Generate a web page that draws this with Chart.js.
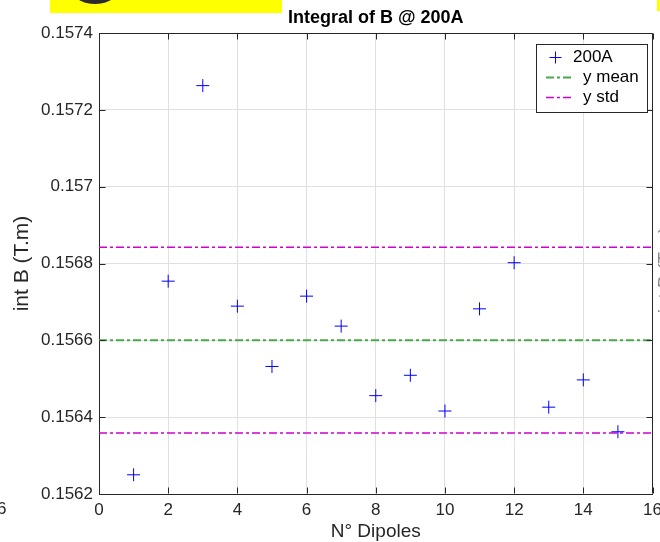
<!DOCTYPE html>
<html>
<head>
<meta charset="utf-8">
<title>Integral of B @ 200A</title>
<script src="https://cdn.jsdelivr.net/npm/chart.js@4.4.0/dist/chart.umd.min.js"></script>
<style>
  html, body { margin: 0; padding: 0; background: #fff; }
  #wrap { width: 660px; height: 542px; }
</style>
</head>
<body>
<div id="wrap"><canvas id="intB" width="660" height="542"></canvas></div>
<script>
// measured integral of B per dipole at 200A
const dipoles = [1, 2, 3, 4, 5, 6, 7, 8, 9, 10, 11, 12, 13, 14, 15];
const intB200A = [0.15625, 0.156754, 0.157263, 0.156689, 0.156532, 0.156715, 0.156637, 0.156456,
                  0.156509, 0.156416, 0.156682, 0.156802, 0.156426, 0.156497, 0.156362];

// statistics lines as shown on the plot
const yMean = 0.1566;
const yStdUpper = 0.156842;
const yStdLower = 0.156359;

const xRange = [0, 16];
const xTickValues = [0, 2, 4, 6, 8, 10, 12, 14, 16];
const yTickValues = [0.1562, 0.1564, 0.1566, 0.1568, 0.157, 0.1572, 0.1574];

const FONT = '"Liberation Sans", Arial, Helvetica, sans-serif';
const INK = '#262626';

// box on the top/right and ticks pointing inward, like the original figure
const frame = {
    id: 'frame',
    afterDatasetsDraw(chart) {
        const { ctx, chartArea: a, scales: { x, y } } = chart;
        const L = Math.round(a.left) + 0.5, R = Math.round(a.right) - 0.5;
        const T = Math.round(a.top) + 0.5, B = Math.round(a.bottom) - 0.5;
        ctx.save();
        ctx.strokeStyle = INK;
        ctx.lineWidth = 1;
        ctx.beginPath();
        ctx.moveTo(L, T); ctx.lineTo(R, T); ctx.lineTo(R, B);
        xTickValues.forEach(v => {
            const px = Math.round(x.getPixelForValue(v)) + 0.5;
            ctx.moveTo(px, B); ctx.lineTo(px, B - 6);
            ctx.moveTo(px, T); ctx.lineTo(px, T + 6);
        });
        yTickValues.forEach(v => {
            const py = Math.round(y.getPixelForValue(v)) + 0.5;
            ctx.moveTo(L, py); ctx.lineTo(L + 6, py);
            ctx.moveTo(R, py); ctx.lineTo(R - 6, py);
        });
        ctx.stroke();
        ctx.restore();
    }
};

// legend box in the upper right corner of the axes
const legendBox = {
    id: 'legendBox',
    afterDraw(chart) {
        const ctx = chart.ctx;
        const items = chart.data.datasets.filter(d => d.inLegend !== false);
        ctx.save();
        ctx.fillStyle = '#fff';
        ctx.strokeStyle = INK;
        ctx.lineWidth = 1;
        ctx.fillRect(536.5, 44.5, 111, 68);
        ctx.strokeRect(536.5, 44.5, 111, 68);
        ctx.font = '17px ' + FONT;
        ctx.textBaseline = 'middle';
        ctx.textAlign = 'left';
        items.forEach((d, i) => {
            const yy = 57 + i * 20;
            ctx.strokeStyle = d.borderColor;
            if (d.showLine) {
                ctx.lineWidth = d.borderWidth;
                ctx.setLineDash(d.borderDash || []);
                ctx.beginPath();
                ctx.moveTo(546, yy + 0.5); ctx.lineTo(571, yy + 0.5);
                ctx.stroke();
                ctx.setLineDash([]);
                ctx.fillStyle = '#000';
                ctx.fillText(d.label, 583, yy);
            } else {
                ctx.lineWidth = 1;
                ctx.beginPath();
                ctx.moveTo(549.5, yy + 0.5); ctx.lineTo(561.5, yy + 0.5);
                ctx.moveTo(555.5, yy - 5.5); ctx.lineTo(555.5, yy + 6.5);
                ctx.stroke();
                ctx.fillStyle = '#000';
                ctx.fillText(d.label, 573, yy);
            }
        });
        ctx.restore();
    }
};

// bits of the neighbouring figure that show at the edges of the screenshot
const edges = {
    id: 'edges',
    beforeDraw(chart) {
        const ctx = chart.ctx;
        ctx.save();
        ctx.fillStyle = '#ffff00';
        ctx.fillRect(50, 0, 232, 13);
        ctx.fillRect(657, 0, 3, 11);
        ctx.fillStyle = '#2b2b2b';
        ctx.beginPath();
        ctx.ellipse(95, -5, 19, 9, 0, 0, Math.PI * 2);
        ctx.fill();
        ctx.fillStyle = INK;
        ctx.font = '17px ' + FONT;
        ctx.textAlign = 'center';
        ctx.textBaseline = 'middle';
        ctx.fillText('16', -3, 509);
        ctx.translate(666, 270);
        ctx.rotate(-Math.PI / 2);
        ctx.font = '19px ' + FONT;
        ctx.fillStyle = '#888';
        ctx.fillText('int B (T.m)', 0, 0);
        ctx.restore();
    }
};

const dash = [8, 3, 3, 3];

new Chart(document.getElementById('intB'), {
    type: 'scatter',
    data: {
        datasets: [
            {
                label: '200A',
                data: dipoles.map((d, i) => ({ x: d, y: intB200A[i] })),
                pointStyle: 'cross',
                pointRadius: 6.5,
                pointBorderWidth: 1,
                borderColor: '#0000ff',
                backgroundColor: '#0000ff',
                showLine: false
            },
            {
                label: 'y mean',
                data: xRange.map(v => ({ x: v, y: yMean })),
                showLine: true,
                borderColor: '#4ca64c',
                borderWidth: 2,
                borderDash: dash,
                pointRadius: 0
            },
            {
                label: 'y std',
                data: xRange.map(v => ({ x: v, y: yStdUpper })),
                showLine: true,
                borderColor: '#d000d0',
                borderWidth: 1.5,
                borderDash: dash,
                pointRadius: 0
            },
            {
                label: 'y std',
                inLegend: false,
                data: xRange.map(v => ({ x: v, y: yStdLower })),
                showLine: true,
                borderColor: '#d000d0',
                borderWidth: 1.5,
                borderDash: dash,
                pointRadius: 0
            }
        ]
    },
    options: {
        responsive: false,
        animation: false,
        layout: { padding: { left: 0, right: 4, top: 0, bottom: 0 } },
        plugins: {
            legend: { display: false },
            tooltip: { enabled: false },
            title: {
                display: true,
                text: 'Integral of B @ 200A',
                fullSize: false,
                color: '#000',
                font: { family: FONT, size: 18, weight: 'bold', lineHeight: 1.2 },
                padding: { top: 7.5, bottom: 3.9 }
            }
        },
        scales: {
            x: {
                type: 'linear',
                min: 0,
                max: 16,
                afterBuildTicks: s => { s.ticks = xTickValues.map(v => ({ value: v })); },
                afterFit: s => { s.height = 48; s.paddingLeft = 0; s.paddingRight = 0; },
                grid: { color: '#e0e0e0', drawTicks: false },
                border: { color: INK },
                ticks: { color: INK, padding: 6, maxRotation: 0, font: { family: FONT, size: 17 } },
                title: {
                    display: true,
                    text: 'N° Dipoles',
                    color: INK,
                    font: { family: FONT, size: 19, lineHeight: 1 },
                    padding: { top: 0, bottom: 0.5 }
                }
            },
            y: {
                type: 'linear',
                min: 0.1562,
                max: 0.1574,
                afterBuildTicks: s => { s.ticks = yTickValues.map(v => ({ value: v })); },
                afterFit: s => { s.width = 99; },
                grid: { color: '#e0e0e0', drawTicks: false },
                border: { color: INK },
                ticks: {
                    color: INK,
                    padding: 6,
                    font: { family: FONT, size: 17 },
                    callback: v => String(Number(v.toFixed(4)))
                },
                title: {
                    display: true,
                    text: 'int B (T.m)',
                    color: INK,
                    font: { family: FONT, size: 21, lineHeight: 1.2 },
                    padding: { top: 9.5, bottom: 0 }
                }
            }
        }
    },
    plugins: [edges, frame, legendBox]
});
</script>
</body>
</html>
